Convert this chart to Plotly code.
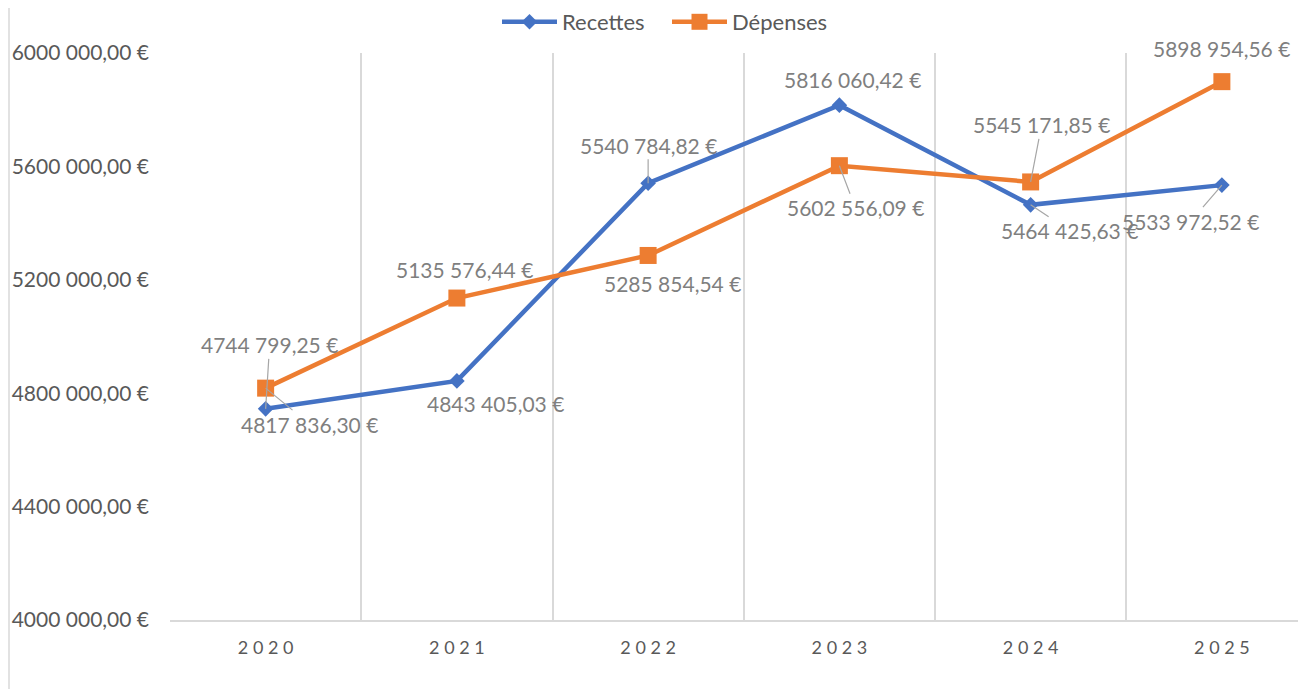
"""
Recettes / Dépenses 2020-2025 line chart (Excel look) with Plotly
"""
import plotly.graph_objects as go

# Data
years = ["2020", "2021", "2022", "2023", "2024", "2025"]
recettes = [4744799.25, 4843405.03, 5540784.82, 5816060.42, 5464425.63, 5533972.52]
depenses = [4817836.30, 5135576.44, 5285854.54, 5602556.09, 5545171.85, 5898954.56]
y_ticks = [4000000, 4400000, 4800000, 5200000, 5600000, 6000000]

# Label placement (pixel offset from the point, leader line or not)
rec_labels = [(4, -64, True), (39, 23, False), (0, -38, True),
              (13, -26, False), (39, 26, True), (-31, 36, True)]
dep_labels = [(44, 36, True), (8, -29, False), (24, 28, False),
              (16, 42, True), (11, -57, True), (0, -33, False)]

BLUE = '#4472C4'
ORANGE = '#ED7D31'
AXIS_TXT = '#595959'
LABEL_TXT = '#7F7F7F'
GRID = '#D9D9D9'
FONT = 'Lato, Open Sans, sans-serif'

# page body has an 8px margin, so the figure is laid out relative to it
PLOT_W, PLOT_H = 1144, 567


def euro(v):
    """French Excel style: '4744 799,25 €'"""
    ent, dec = f"{v:.2f}".split(".")
    return f"{ent[:-3]} {ent[-3:]},{dec} €"


x = list(range(len(years)))

fig = go.Figure()

fig.add_trace(go.Scatter(
    x=x, y=recettes, name='Recettes', mode='lines+markers',
    line=dict(color=BLUE, width=4.5),
    marker=dict(symbol='diamond', size=12, color=BLUE),
    cliponaxis=False
))

fig.add_trace(go.Scatter(
    x=x, y=depenses, name='Dépenses', mode='lines+markers',
    line=dict(color=ORANGE, width=4.5),
    marker=dict(symbol='square', size=17, color=ORANGE),
    cliponaxis=False
))

# Data labels with leader lines
for values, placement in ((recettes, rec_labels), (depenses, dep_labels)):
    for i, (v, (dx, dy, leader)) in enumerate(zip(values, placement)):
        fig.add_annotation(
            x=i, y=v, text=euro(v),
            showarrow=True, arrowhead=0, arrowwidth=1.2, standoff=0,
            arrowcolor='#A6A6A6' if leader else 'rgba(0,0,0,0)',
            ax=dx, ay=dy,
            font=dict(family=FONT, size=21, color=LABEL_TXT)
        )

# Chart border on the left
fig.add_shape(
    type='line', xref='paper', yref='paper',
    x0=-161 / PLOT_W, x1=-161 / PLOT_W, y0=-77 / PLOT_H, y1=1 + 45 / PLOT_H,
    line=dict(color=GRID, width=1.5)
)

fig.update_layout(
    width=1306, height=689,
    margin=dict(l=162, r=0, t=45, b=77, autoexpand=False),
    paper_bgcolor='white', plot_bgcolor='white',
    font=dict(family=FONT, color=AXIS_TXT),
    showlegend=True,
    legend=dict(
        orientation='h', x=(667 - 170) / PLOT_W, xanchor='center',
        y=1 + 31 / PLOT_H, yanchor='middle',
        font=dict(size=22, color=AXIS_TXT), bgcolor='rgba(0,0,0,0)',
        itemwidth=55, entrywidth=100
    )
)

fig.update_xaxes(
    range=[-0.5, -0.5 + PLOT_W / 191.25],
    tickvals=x, ticktext=[' '.join(y) for y in years],
    tickfont=dict(size=18, color=AXIS_TXT),
    ticklabelstandoff=11,
    showgrid=False, zeroline=False,
    showline=True, linecolor=GRID, linewidth=1.5,
    minor=dict(tickvals=[i - 0.5 for i in x], showgrid=True,
               gridcolor=GRID, gridwidth=1.5)
)

fig.update_yaxes(
    range=[4000000, 6000000],
    tickvals=y_ticks, ticktext=[euro(v) for v in y_ticks],
    tickfont=dict(size=21, color=AXIS_TXT),
    ticklabelstandoff=20,
    showgrid=False, zeroline=False, showline=False
)

fig.write_html("out.html")
